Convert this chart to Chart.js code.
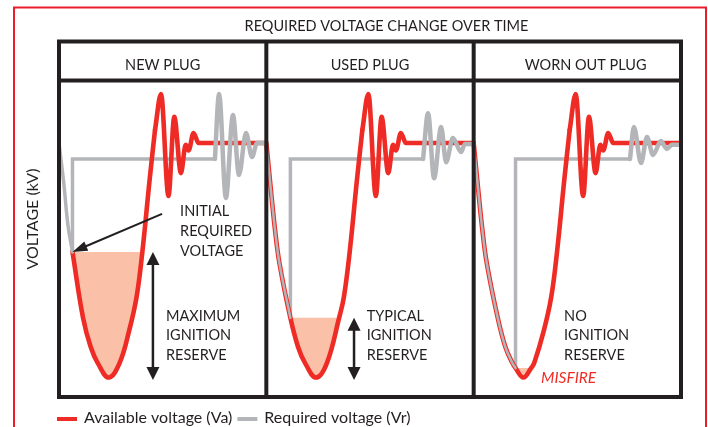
<!DOCTYPE html>
<html>
<head>
<meta charset="utf-8">
<title>Required voltage change over time</title>
<script src="https://cdn.jsdelivr.net/npm/chart.js@4.4.1/dist/chart.umd.min.js"></script>
<style>
  html, body { margin: 0; padding: 0; background: #ffffff; }
  canvas { display: block; }
</style>
</head>
<body>
<canvas id="chart-voltage" width="708" height="427" aria-label="Required voltage change over time"></canvas>
<script>
// time runs 0-300 across the three plugs (100 per firing), voltage 0-100 (up = less kV needed)
const panelNames = ["NEW PLUG", "USED PLUG", "WORN OUT PLUG"];
const seriesNames = ["Available voltage (Va)", "Required voltage (Vr)"];

// available voltage (Va), one firing per plug
const availableNew = [
  [6.5, 46.2], [11.6, 25.2], [15.3, 15.9], [18.7, 10.8], [24.0, 6.2], [29.2, 10.8],
  [33.9, 21.3], [37.4, 31.8], [40.2, 46.2], [43.7, 69.1], [46.3, 85.0], [49.2, 96.5],
  [52.8, 64.0], [55.6, 89.2], [58.8, 71.3], [61.1, 80.3], [62.5, 78.5], [64.9, 84.1],
  [67.3, 80.9], [100, 80.9],
];
const availableUsed = [
  [100, 80.9], [102.2, 65.9], [104.2, 53.2], [106.3, 42.7], [111.6, 25.2], [115.3, 15.9],
  [118.7, 10.8], [124.0, 6.2], [129.2, 10.8], [135.1, 25.2], [137.4, 31.8], [140.2, 46.2],
  [143.7, 69.1], [146.3, 85.0], [149.2, 96.5], [152.8, 64.0], [155.6, 89.2], [158.8, 71.3],
  [161.1, 80.3], [162.5, 78.5], [164.9, 84.1], [167.3, 80.9], [200, 80.9],
];
const availableWorn = [
  [200, 80.9], [202.2, 65.9], [204.2, 53.2], [206.3, 42.7], [211.6, 25.2], [215.3, 15.9],
  [218.7, 10.8], [220.2, 9.2], [224.0, 6.2], [227.7, 9.2], [229.2, 10.8], [233.9, 21.3],
  [237.4, 31.8], [240.2, 46.2], [243.7, 69.1], [246.3, 85.0], [249.2, 96.5], [252.8, 64.0],
  [255.6, 89.2], [258.8, 71.3], [261.1, 80.3], [262.5, 78.5], [264.9, 84.1], [267.3, 80.9],
  [300, 80.9],
];

// required voltage (Vr): drop along Va, step back up, ringing after the spark
const requiredNewDrop = [[0, 80.9], [2.4, 67.5], [4.3, 54.8], [6.5, 46.2]];
const requiredNewStep = [[6.5, 46.2], [6.5, 75.8], [75.2, 75.8]];
const requiredNewRing = [
  [75.2, 75.8], [77.2, 96.5], [80.5, 63.4], [83.9, 89.8], [86.8, 70.7], [90.2, 84.1],
  [93.1, 76.4], [95.5, 80.9], [100, 80.9],
];
const requiredUsedDrop = [[100, 80.9], [102.2, 65.9], [104.2, 53.2], [106.3, 42.7], [111.6, 25.2]];
const requiredUsedStep = [[111.6, 25.2], [111.6, 75.8], [175.6, 75.8]];
const requiredUsedRing = [
  [175.6, 75.8], [178.0, 90.4], [180.9, 69.7], [184.3, 86.0], [186.7, 74.8], [190.0, 82.5],
  [193.9, 78.0], [195.8, 80.6], [200, 80.6],
];
const requiredWornDrop = [
  [200, 80.9], [202.2, 65.9], [204.2, 53.2], [206.3, 42.7], [211.6, 25.2], [215.3, 15.9],
  [218.7, 10.8], [220.2, 9.2],
];
const requiredWornStep = [[220.2, 9.2], [220.2, 75.8], [275.4, 75.8]];
const requiredWornRing = [
  [275.4, 75.8], [277.3, 86.0], [280.7, 74.5], [283.6, 82.8], [286.5, 77.1], [290.3, 81.5],
  [293.2, 79.0], [295.6, 80.3], [300, 80.3],
];

// initial required voltage per plug (top of the ignition reserve)
const reserveLevels = [46.2, 25.2, 9.2];

const colors = {
  red: "#ee2b24",
  grey: "#b4b5b8",
  pink: "#fbc0a8",
  ink: "#231f20",
  border: "#ec1c2b",
};
const fontFamily = 'Lato, "Open Sans", sans-serif';
const font = (size, style = "") => `${style} ${size}px ${fontFamily}`.trim();

const toPoints = (pairs) => pairs.map(([x, y]) => ({ x, y }));

// curve: "smooth" (spline), "ring" (monotone, keeps peaks on the points) or "straight"
const lineSet = (pairs, color, width, order, curve = "smooth") => ({
  data: toPoints(pairs),
  borderColor: color,
  borderWidth: width,
  order,
  pointRadius: 0,
  fill: false,
  tension: curve === "smooth" ? 0.4 : 0,
  cubicInterpolationMode: curve === "ring" ? "monotone" : "default",
  borderJoinStyle: curve === "straight" ? "miter" : "round",
  borderCapStyle: curve === "straight" ? "butt" : "round",
});

const reserveSet = (pairs, level) => ({
  data: toPoints(pairs.filter(([, v]) => v <= level + 0.01)),
  borderColor: "rgba(0,0,0,0)",
  borderWidth: 0,
  backgroundColor: colors.pink,
  fill: { value: level },
  tension: 0.4,
  pointRadius: 0,
  order: 9,
});

// split Va just before its spark peak: spline for the dip, monotone for the ringing
const splitAtPeak = (pairs) => {
  let peak = 0;
  pairs.forEach(([, v], i) => {
    if (v > pairs[peak][1]) peak = i;
  });
  return [pairs.slice(0, peak), pairs.slice(peak - 1)];
};

const available = [availableNew, availableUsed, availableWorn];
const drops = [requiredNewDrop, requiredUsedDrop, requiredWornDrop];
const steps = [requiredNewStep, requiredUsedStep, requiredWornStep];
const rings = [requiredNewRing, requiredUsedRing, requiredWornRing];

const datasets = [];
available.forEach((va, i) => {
  const [dip, spark] = splitAtPeak(va);
  datasets.push(reserveSet(va, reserveLevels[i]));
  datasets.push(lineSet(steps[i], colors.grey, 3.5, 5, "straight"));
  datasets.push(lineSet(dip, colors.red, 4.6, 3, "smooth"));
  datasets.push(lineSet(spark, colors.red, 4.6, 3, "ring"));
  datasets.push(lineSet(rings[i], colors.grey, 4.5, 2, "ring"));
  datasets.push(lineSet(drops[i], colors.grey, i === 0 ? 3.5 : 2.5, 1, "smooth"));
});

// text callouts, anchored in data units (first baseline)
const notes = [
  { lines: ["INITIAL", "REQUIRED", "VOLTAGE"], x: 58.4, y: 57.5 },
  { lines: ["MAXIMUM", "IGNITION", "RESERVE"], x: 51.6, y: 24.3 },
  { lines: ["TYPICAL", "IGNITION", "RESERVE"], x: 148.4, y: 24.3 },
  { lines: ["NO", "IGNITION", "RESERVE"], x: 243.6, y: 24.3 },
];
const pointer = { from: [49.7, 58.3], to: [6.5, 46.2] };
const spans = [
  { x: 45.3, top: 46.2, bottom: 5.4 },
  { x: 142.3, top: 25.2, bottom: 5.4 },
];
const misfire = { text: "MISFIRE", x: 232.5, y: 4.5 };

const arrowHead = (ctx, tipX, tipY, angle, length, width) => {
  ctx.save();
  ctx.translate(tipX, tipY);
  ctx.rotate(angle);
  ctx.beginPath();
  ctx.moveTo(0, 0);
  ctx.lineTo(-length, -width / 2);
  ctx.lineTo(-length, width / 2);
  ctx.closePath();
  ctx.fill();
  ctx.restore();
};

const diagram = {
  id: "diagram",
  beforeDraw: (chart) => {
    const { ctx, width, height } = chart;
    ctx.save();
    ctx.fillStyle = "#ffffff";
    ctx.fillRect(0, 0, width, height);
    ctx.restore();
  },
  afterDatasetsDraw: (chart) => {
    const { ctx, chartArea: area, scales } = chart;
    const px = (v) => scales.x.getPixelForValue(v);
    const py = (v) => scales.y.getPixelForValue(v);
    const frameTop = 41.5;
    const headLine = area.top - 2.5;

    ctx.save();

    // outer red rule
    ctx.strokeStyle = colors.border;
    ctx.lineWidth = 2;
    ctx.strokeRect(14, 7.5, 692, 460);

    // table frame
    ctx.strokeStyle = colors.ink;
    ctx.lineWidth = 4;
    ctx.lineJoin = "miter";
    ctx.strokeRect(area.left, frameTop, area.right - area.left, area.bottom - frameTop);
    ctx.beginPath();
    ctx.moveTo(area.left, headLine);
    ctx.lineTo(area.right, headLine);
    [100, 200].forEach((v) => {
      ctx.moveTo(px(v), frameTop);
      ctx.lineTo(px(v), area.bottom);
    });
    ctx.stroke();

    ctx.fillStyle = colors.ink;
    ctx.textBaseline = "alphabetic";

    // title and panel headers
    ctx.font = font(14.5);
    ctx.textAlign = "center";
    ctx.fillText("REQUIRED VOLTAGE CHANGE OVER TIME", 386.5, 31);
    const headerCenters = [50, 150, 254];
    panelNames.forEach((name, i) => {
      ctx.fillText(name, px(headerCenters[i]), 70);
    });

    // y axis label
    ctx.save();
    ctx.font = font(16);
    ctx.translate(33, 219);
    ctx.rotate(-Math.PI / 2);
    ctx.textBaseline = "middle";
    ctx.fillText("VOLTAGE (kV)", 0, 0);
    ctx.restore();

    // callout texts
    ctx.textAlign = "left";
    notes.forEach((note) => {
      note.lines.forEach((line, j) => {
        ctx.fillText(line, px(note.x), py(note.y) + j * 19.6);
      });
    });

    // pointer arrow to the initial required voltage
    const fx = px(pointer.from[0]);
    const fy = py(pointer.from[1]);
    const tx = px(pointer.to[0]);
    const ty = py(pointer.to[1]);
    const ang = Math.atan2(ty - fy, tx - fx);
    ctx.lineWidth = 2;
    ctx.beginPath();
    ctx.moveTo(fx, fy);
    ctx.lineTo(tx - Math.cos(ang) * 12, ty - Math.sin(ang) * 12);
    ctx.stroke();
    arrowHead(ctx, tx, ty, ang, 15, 10);

    // ignition reserve spans
    ctx.lineWidth = 2.5;
    spans.forEach((s) => {
      const sx = px(s.x);
      const top = py(s.top);
      const bottom = py(s.bottom);
      ctx.beginPath();
      ctx.moveTo(sx, top + 10);
      ctx.lineTo(sx, bottom - 10);
      ctx.stroke();
      arrowHead(ctx, sx, top, -Math.PI / 2, 13, 13);
      arrowHead(ctx, sx, bottom, Math.PI / 2, 13, 13);
    });

    // misfire label
    ctx.fillStyle = colors.red;
    ctx.font = font(15.5, "italic");
    ctx.fillText(misfire.text, px(misfire.x), py(misfire.y));

    // legend
    ctx.font = font(16);
    let cursor = 57;
    [colors.red, colors.grey].forEach((color, i) => {
      ctx.fillStyle = color;
      ctx.fillRect(cursor, 417, 20, 4);
      cursor += 27;
      ctx.fillStyle = colors.ink;
      ctx.fillText(seriesNames[i], cursor, 423);
      cursor += ctx.measureText(seriesNames[i]).width + 5;
    });

    ctx.restore();
  },
};

new Chart(document.getElementById("chart-voltage"), {
  type: "line",
  data: { datasets },
  options: {
    responsive: false,
    animation: false,
    devicePixelRatio: 1,
    layout: { padding: { left: 59, right: 27, top: 83, bottom: 30 } },
    scales: {
      x: { type: "linear", min: 0, max: 300, display: false },
      y: { type: "linear", min: 0, max: 100, display: false },
    },
    plugins: {
      legend: { display: false },
      tooltip: { enabled: false },
      title: { display: false },
    },
  },
  plugins: [diagram],
});
</script>
</body>
</html>
